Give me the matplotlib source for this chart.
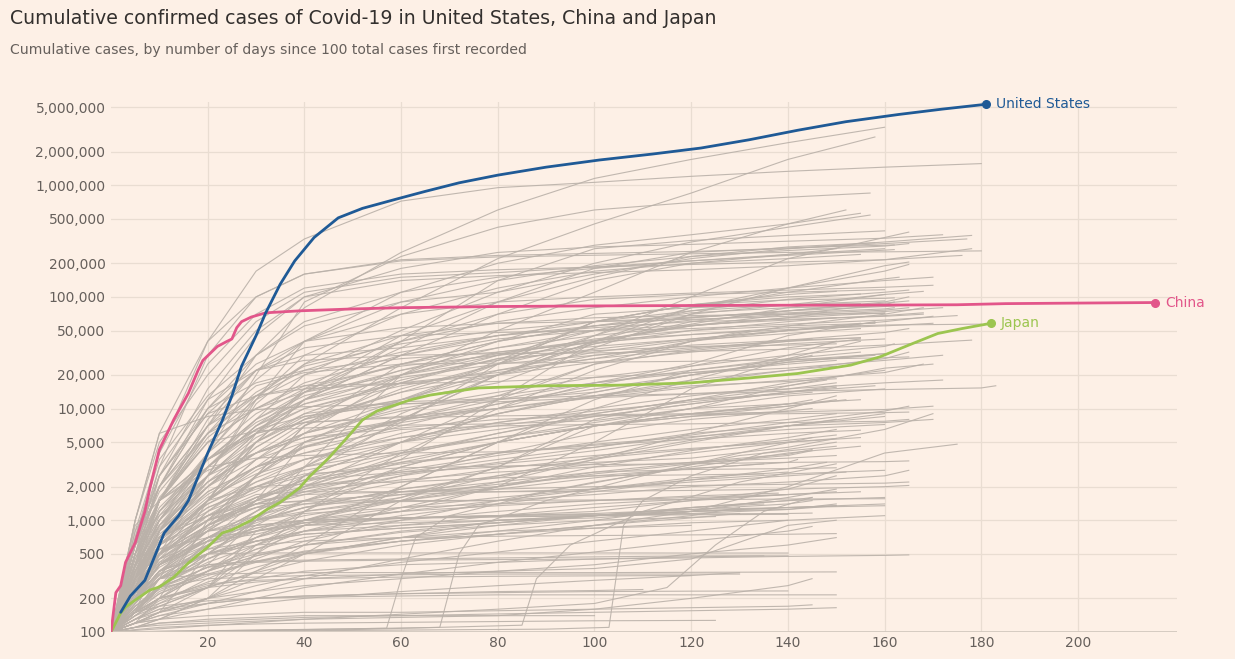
import matplotlib
matplotlib.use("Agg")
import matplotlib.pyplot as plt

plt.rcParams["font.family"] = ["DejaVu Sans"]

# highlighted countries: day since 100th case -> cumulative cases
US_DAYS = [2, 4, 7, 11, 14, 16, 20, 23, 25, 27, 30, 32, 35, 38, 42, 47, 52, 59, 65,
           72, 80, 90, 101, 112, 122, 132, 142, 152, 163, 172, 181]
US_CASES = [150, 210, 290, 770, 1100, 1500, 4000, 7800, 13000, 24000, 45000, 72000,
            130000, 210000, 340000, 510000, 620000, 750000, 880000, 1050000, 1230000,
            1450000, 1680000, 1900000, 2150000, 2550000, 3100000, 3700000, 4300000,
            4800000, 5300000]

CHINA_DAYS = [0, 1, 2, 3, 5, 7, 8, 10, 13, 16, 18, 19, 22, 24, 25, 26, 27, 29, 32, 39,
              50, 60, 80, 100, 130, 160, 175, 185, 200, 216]
CHINA_CASES = [100, 225, 260, 420, 630, 1200, 1900, 4300, 8000, 13700, 22000, 27000,
               36000, 40000, 42000, 53000, 60000, 66000, 72000, 75000, 78000, 80000,
               82000, 83000, 84000, 84500, 85000, 87000, 88000, 89000]

JAPAN_DAYS = [0, 2, 3, 5, 8, 10, 13, 16, 20, 23, 25, 29, 32, 35, 39, 41, 45, 49, 52, 55,
              58, 62, 66, 76, 90, 105, 120, 132, 142, 153, 159, 165, 171, 176, 182]
JAPAN_CASES = [100, 148, 167, 193, 237, 253, 310, 415, 575, 770, 820, 1000, 1230, 1450,
               1950, 2450, 3600, 5600, 7900, 9500, 10500, 12000, 13200, 15300, 16000,
               16200, 17000, 18800, 20600, 24500, 29000, 37000, 47000, 52000, 58000]

# other countries, values read at these days; last value is at the line's end day
GREY_GRID = [0, 5, 10, 20, 30, 40, 60, 80, 100, 120, 140, 160, 180]
GREY_LINES = [
    (180, [100, 700, 4000, 40000, 170000, 330000, 720000, 950000, 1060000, 1200000, 1330000, 1450000, 1560000]),
    (160, [100, 300, 1500, 7000, 30000, 80000, 250000, 600000, 1150000, 1700000, 2400000, 3300000]),
    (158, [100, 200, 500, 2500, 11000, 25000, 80000, 220000, 450000, 850000, 1700000, 2700000]),
    (157, [100, 250, 800, 4000, 20000, 90000, 230000, 420000, 600000, 700000, 780000, 850000]),
    (155, [100, 300, 800, 2500, 12000, 40000, 110000, 200000, 290000, 360000, 450000, 560000]),
    (157, [100, 250, 800, 3000, 8000, 20000, 50000, 110000, 200000, 310000, 420000, 540000]),
    (152, [100, 300, 800, 2000, 4500, 8000, 20000, 50000, 110000, 250000, 450000, 600000]),
    (160, [100, 400, 1200, 3500, 8000, 14000, 40000, 140000, 270000, 320000, 355000, 390000]),
    (177, [100, 500, 3000, 30000, 100000, 160000, 215000, 235000, 245000, 255000, 270000, 300000, 330000]),
    (180, [100, 1000, 6000, 40000, 100000, 160000, 210000, 228000, 236000, 243000, 250000, 253000, 258000]),
    (172, [100, 400, 2500, 15000, 50000, 100000, 180000, 250000, 280000, 295000, 315000, 335000, 360000]),
    (176, [100, 800, 4000, 25000, 70000, 120000, 160000, 175000, 185000, 195000, 205000, 215000, 235000]),
    (178, [100, 500, 2000, 12000, 45000, 100000, 140000, 155000, 165000, 175000, 190000, 215000, 270000]),
    (178, [100, 700, 3500, 13000, 30000, 55000, 90000, 110000, 160000, 220000, 270000, 310000, 355000]),
    (162, [100, 1000, 5000, 20000, 60000, 110000, 150000, 165000, 185000, 210000, 235000, 262000, 265000]),
    (162, [100, 400, 900, 2500, 6000, 14000, 35000, 90000, 180000, 250000, 275000, 290000, 292000]),
    (158, [100, 500, 1000, 2500, 6000, 15000, 45000, 90000, 150000, 230000, 280000, 305000]),
    (150, [100, 200, 600, 1500, 5000, 12000, 30000, 70000, 140000, 200000, 240000, 270000]),
    (165, [100, 250, 700, 1800, 3000, 4500, 8000, 20000, 45000, 100000, 220000, 340000, 380000]),
    (170, [100, 400, 1500, 8000, 22000, 40000, 70000, 90000, 100000, 108000, 115000, 122000, 127000]),
    (160, [100, 300, 600, 1500, 5000, 12000, 40000, 70000, 95000, 105000, 110000, 116000]),
    (172, [100, 600, 2000, 10000, 25000, 40000, 53000, 58000, 60000, 63000, 67000, 74000, 80000]),
    (175, [100, 600, 2500, 9000, 22000, 35000, 45000, 48000, 50000, 52000, 57000, 62000, 68000]),
    (173, [100, 500, 1200, 3000, 7000, 14000, 25000, 40000, 55000, 72000, 80000, 83000, 85000]),
    (178, [100, 600, 3000, 12000, 22000, 27000, 30000, 31000, 31500, 32500, 34000, 37000, 41000]),
    (170, [100, 600, 2500, 10000, 17000, 22000, 28000, 32000, 39000, 46000, 51000, 55000, 58000]),
    (162, [100, 200, 400, 800, 1500, 3000, 7500, 25000, 60000, 85000, 94000, 97000, 98000]),
    (163, [100, 300, 800, 2000, 4000, 7500, 14000, 25000, 45000, 80000, 110000, 145000, 150000]),
    (165, [100, 250, 700, 2500, 5000, 8000, 12000, 17000, 35000, 70000, 120000, 190000, 205000]),
    (165, [100, 200, 500, 1000, 1400, 2000, 3500, 12000, 40000, 80000, 120000, 170000, 195000]),
    (160, [100, 300, 1000, 3500, 8000, 13000, 22000, 31000, 40000, 57000, 80000, 105000]),
    (168, [100, 400, 1500, 7000, 13000, 16000, 16800, 20000, 40000, 70000, 85000, 105000, 112000]),
    (155, [100, 250, 600, 1500, 3500, 6000, 12000, 25000, 60000, 85000, 100000, 106000]),
    (160, [100, 400, 1500, 3500, 6000, 10000, 17000, 30000, 50000, 75000, 85000, 92000]),
    (155, [100, 250, 600, 1500, 3000, 6000, 20000, 40000, 70000, 80000, 85000, 87000]),
    (150, [100, 200, 500, 1000, 2500, 5000, 11000, 27000, 60000, 85000, 105000, 112000]),
    (165, [100, 450, 1200, 3500, 6500, 8500, 12000, 20000, 38000, 60000, 75000, 88000, 92000]),
    (165, [100, 150, 250, 900, 2500, 7000, 25000, 40000, 55000, 65000, 75000, 82000, 85000]),
    (168, [100, 150, 300, 1500, 6000, 12000, 30000, 45000, 53000, 60000, 63000, 67000, 70000]),
    (168, [100, 300, 800, 3000, 7000, 11000, 17000, 21000, 28000, 40000, 55000, 70000, 80000]),
    (160, [100, 400, 1000, 4000, 13000, 25000, 45000, 58000, 65000, 68000, 70000, 71000]),
    (180, [100, 150, 200, 400, 1000, 3000, 20000, 32000, 41000, 46000, 53000, 56000, 57000]),
    (165, [100, 800, 2000, 7000, 22000, 30000, 35000, 45000, 60000, 75000, 95000, 110000, 115000]),
    (148, [100, 150, 250, 500, 1000, 2500, 8000, 20000, 40000, 55000, 65000, 73000]),
    (170, [100, 400, 1500, 6000, 10000, 14000, 20000, 27000, 34000, 42000, 50000, 60000, 67000]),
    (155, [100, 200, 350, 800, 2500, 5000, 12000, 22000, 32000, 41000, 47000, 52000]),
    (158, [100, 300, 800, 2500, 4000, 5500, 8000, 10000, 17000, 25000, 45000, 60000]),
    (155, [100, 200, 350, 500, 1000, 2000, 5000, 12000, 25000, 40000, 50000, 58000]),
    (132, [100, 130, 150, 250, 500, 1200, 4000, 10000, 22000, 40000, 50000]),
    (155, [100, 350, 700, 1200, 1800, 3000, 9000, 20000, 30000, 37000, 41000, 43000]),
    (165, [100, 600, 2000, 7000, 16000, 21000, 25000, 25500, 26000, 26500, 27500, 28500, 29000]),
    (172, [100, 600, 2500, 9000, 13000, 15000, 16700, 17500, 19000, 21000, 23000, 27000, 30000]),
    (172, [100, 600, 1100, 2500, 5500, 9000, 11500, 12300, 13000, 13600, 15000, 17000, 18000]),
    (168, [100, 350, 1000, 3000, 6000, 7500, 8500, 10000, 12500, 15500, 18000, 21000, 25000]),
    (183, [100, 1000, 6000, 8500, 9800, 10400, 11000, 11500, 12500, 13500, 14300, 14800, 15300, 16000]),
    (165, [100, 600, 1500, 2800, 4000, 5500, 6700, 8000, 8600, 8800, 9000, 9200, 9300]),
    (170, [100, 400, 1500, 5000, 6300, 6700, 7100, 7300, 7800, 10000, 16000, 23000, 25000]),
    (170, [100, 900, 1500, 3500, 6000, 7500, 8300, 8600, 8800, 9000, 9300, 9800, 10500]),
    (165, [100, 200, 450, 1200, 2500, 4500, 6500, 7000, 7200, 7300, 7500, 7700, 8000]),
    (170, [100, 200, 400, 900, 1600, 2300, 2700, 3000, 3300, 3600, 4500, 6500, 9000]),
    (160, [100, 300, 700, 2200, 5000, 8500, 11000, 12000, 14000, 20000, 27000, 31000]),
    (150, [100, 250, 500, 1000, 2500, 7000, 17000, 28000, 33000, 36000, 37000, 38000]),
    (155, [100, 250, 500, 1500, 3000, 4000, 7000, 11000, 16000, 24000, 35000, 42000]),
    (145, [100, 150, 250, 650, 1500, 5000, 8000, 13000, 25000, 33000, 40000, 42000]),
    (145, [100, 150, 250, 350, 600, 900, 2000, 5000, 12000, 22000, 27000, 30000]),
    (150, [100, 150, 500, 900, 1500, 2500, 5000, 9000, 13000, 16000, 17500, 18500]),
    (150, [100, 150, 200, 350, 700, 1200, 3000, 5000, 7000, 9000, 10500, 12000]),
    (160, [100, 300, 700, 1500, 2000, 2100, 2200, 2400, 3500, 5000, 7000, 9000]),
    (165, [100, 300, 600, 1000, 1300, 1400, 1470, 1500, 1700, 2000, 2200, 2500, 2800]),
    (165, [100, 400, 700, 1100, 1500, 1700, 1800, 1900, 2000, 2050, 2100, 2150, 2200]),
    (165, [100, 300, 600, 1100, 1700, 1800, 1800, 1800, 1820, 1850, 1900, 2000, 2050]),
    (160, [100, 400, 700, 1100, 1400, 1480, 1500, 1510, 1520, 1530, 1550, 1560]),
    (165, [100, 120, 200, 1000, 2000, 2600, 2950, 3050, 3150, 3200, 3300, 3350, 3400]),
    (170, [100, 500, 1500, 3000, 3600, 3800, 4000, 4100, 4500, 6000, 7000, 7500, 8000]),
    (160, [100, 300, 500, 900, 1400, 1500, 1700, 1800, 1900, 2300, 2600, 2800]),
    (160, [100, 200, 400, 600, 800, 950, 1050, 1100, 1150, 1250, 1300, 1350]),
    (160, [100, 200, 400, 650, 800, 900, 950, 1000, 1050, 1200, 1300, 1400]),
    (160, [100, 200, 350, 500, 650, 750, 850, 950, 1100, 1300, 1500, 1600]),
    (150, [100, 150, 200, 250, 600, 1000, 1800, 2000, 2700, 2850, 2900, 2950]),
    (150, [100, 150, 200, 270, 290, 300, 330, 350, 370, 450, 900, 1000]),
    (165, [100, 150, 250, 380, 420, 430, 440, 445, 450, 460, 475, 485, 490]),
    (175, [100, 110, 130, 200, 500, 900, 1040, 1070, 1100, 1200, 2000, 4000, 4800]),
    (150, [100, 200, 300, 330, 335, 340, 340, 340, 340, 342, 344, 345]),
    (150, [100, 200, 300, 400, 430, 500, 700, 1000, 1100, 1200, 1250, 1400]),
    (150, [100, 250, 500, 800, 900, 1000, 1050, 1100, 1200, 1500, 1900, 2500]),
    (155, [100, 250, 450, 650, 750, 950, 1200, 2000, 5000, 15000, 28000, 40000]),
    (150, [100, 200, 300, 600, 1200, 2500, 5000, 9000, 13000, 18000, 22000, 24000]),
    (150, [100, 150, 180, 250, 350, 600, 2000, 5000, 10000, 18000, 30000, 40000]),
    (150, [100, 140, 170, 250, 800, 1200, 1500, 2200, 3500, 6000, 10000, 13000]),
    (150, [100, 200, 300, 450, 650, 750, 850, 950, 1100, 1150, 1250, 1350]),
    (145, [100, 120, 130, 200, 300, 500, 1500, 3000, 8000, 12000, 13500, 14000]),
    (140, [100, 120, 150, 500, 1000, 1200, 1600, 3000, 7000, 10000, 11000]),
    (135, [100, 200, 400, 700, 1000, 1300, 1900, 2400, 2500, 2550, 2600]),
    (150, [100, 200, 350, 550, 650, 800, 900, 1000, 1100, 1200, 1300, 1350]),
    (145, [100, 200, 550, 700, 800, 950, 1050, 1100, 1130, 1140, 1150, 1160]),
    (140, [100, 150, 300, 500, 510, 510, 510, 510, 510, 509, 509]),
    (130, [100, 120, 150, 200, 350, 500, 650, 750, 900, 1100, 1300]),
    (140, [100, 130, 160, 180, 200, 210, 220, 225, 230, 232, 233]),
    (150, [100, 150, 170, 190, 200, 205, 210, 215, 215, 215, 215, 215]),
    (145, [100, 120, 130, 140, 145, 150, 150, 155, 160, 165, 170, 175]),
    (150, [100, 110, 120, 125, 130, 135, 140, 145, 150, 155, 160, 165]),
    (130, [100, 150, 250, 300, 310, 320, 325, 330, 330, 330, 330]),
    (140, [100, 180, 300, 400, 430, 440, 450, 460, 470, 480, 480]),
    (150, [100, 200, 350, 500, 600, 650, 700, 720, 730, 740, 750, 760]),
    (120, [100, 150, 200, 250, 280, 300, 310, 315, 318, 320]),
    (145, [100, 110, 115, 120, 125, 130, 135, 140, 160, 200, 260, 300]),
    (135, [100, 140, 200, 260, 300, 350, 400, 420, 450, 470, 480]),
    (150, [100, 130, 160, 200, 230, 260, 300, 350, 400, 500, 600, 700]),
    (155, [100, 160, 250, 380, 550, 700, 900, 1100, 1300, 1500, 1700, 1800]),
    (140, [100, 200, 400, 700, 900, 1000, 1050, 1080, 1100, 1120, 1130]),
    (145, [100, 170, 240, 330, 430, 530, 650, 800, 1000, 1300, 1500, 1600]),
    (160, [100, 120, 150, 200, 260, 320, 420, 520, 650, 800, 1000, 1100]),
    (125, [100, 105, 110, 115, 118, 120, 122, 124, 126, 127]),
    (100, [100, 110, 120, 130, 135, 140, 140, 140, 140]),
    (110, [100, 120, 150, 180, 200, 210, 220, 230, 235, 240]),
    (155, [100, 200, 400, 800, 1500, 2200, 3500, 5000, 7000, 9000, 11000, 12000]),
    (150, [100, 250, 500, 900, 1300, 1700, 2500, 3300, 4200, 5500, 7000, 8000]),
    (160, [100, 300, 600, 1300, 2000, 2800, 4000, 5500, 7500, 10000, 13000, 15000]),
    (145, [100, 180, 300, 600, 1000, 1500, 2500, 4000, 6000, 8000, 9500, 10000]),
    (165, [100, 250, 450, 900, 1400, 1900, 2700, 3500, 4500, 5800, 7500, 9500, 10500]),
    (150, [100, 200, 350, 700, 1200, 2000, 3800, 6000, 9000, 12000, 15000, 17000]),
    (160, [100, 350, 800, 1800, 3000, 4000, 5500, 7000, 9000, 12000, 17000, 22000]),
    (140, [100, 150, 250, 500, 900, 1500, 3000, 5000, 7000, 8500, 9500]),
    (155, [100, 220, 380, 650, 950, 1300, 1900, 2500, 3200, 4000, 5000, 5500]),
    (165, [100, 400, 900, 2000, 3500, 5000, 7500, 10000, 13000, 17000, 22000, 28000, 32000]),
    (150, [100, 300, 700, 1600, 2600, 3500, 5000, 6500, 8500, 11000, 14000, 16000]),
    (158, [100, 250, 500, 1200, 2200, 3500, 6000, 9000, 14000, 20000, 26000, 30000]),
    (145, [100, 160, 260, 450, 700, 1000, 1500, 2000, 2600, 3200, 3800, 4200]),
    (152, [100, 350, 700, 1400, 2200, 3000, 4200, 5500, 7000, 8500, 10500, 12000]),
    (160, [100, 400, 1200, 4000, 9000, 15000, 25000, 35000, 45000, 55000, 65000, 72000]),
    (165, [100, 300, 900, 3000, 7000, 12000, 22000, 35000, 50000, 62000, 70000, 76000, 80000]),
    (155, [100, 500, 1500, 5000, 10000, 16000, 24000, 30000, 36000, 42000, 50000, 55000]),
    (162, [100, 250, 700, 2000, 5000, 9000, 18000, 28000, 40000, 55000, 70000, 85000, 90000]),
    (150, [100, 200, 500, 1500, 3500, 7000, 15000, 25000, 38000, 50000, 60000, 65000]),
    (158, [100, 350, 1000, 3000, 6500, 11000, 20000, 30000, 42000, 50000, 55000, 58000]),
    (165, [100, 450, 1500, 5500, 12000, 20000, 32000, 45000, 55000, 65000, 75000, 90000, 100000]),
    (170, [100, 600, 2000, 6000, 13000, 22000, 40000, 60000, 80000, 100000, 120000, 140000, 150000]),
    (160, [100, 500, 2000, 10000, 30000, 60000, 110000, 150000, 180000, 210000, 240000, 270000]),
    (165, [100, 400, 1500, 6000, 18000, 40000, 90000, 140000, 190000, 230000, 260000, 285000, 300000]),
    (155, [100, 350, 1000, 4000, 12000, 30000, 70000, 120000, 170000, 200000, 220000, 240000]),
    (150, [100, 300, 600, 1100, 1600, 2000, 2600, 3200, 3800, 4400, 5000, 5400]),
    (145, [100, 250, 450, 800, 1100, 1400, 1800, 2200, 2700, 3300, 3900, 4300]),
    (140, [100, 180, 300, 500, 700, 900, 1200, 1500, 1900, 2400, 2700]),
    (135, [100, 220, 400, 700, 1000, 1300, 1700, 2100, 2500, 2900, 3200]),
    (155, [100, 130, 180, 300, 450, 650, 1000, 1500, 2200, 3000, 4000, 4600]),
    (150, [100, 140, 200, 350, 550, 800, 1300, 2000, 3000, 4200, 5500, 6500]),
    (160, [100, 260, 500, 1000, 1600, 2300, 3200, 4000, 4800, 5600, 6500, 7200]),
    (152, [100, 200, 320, 550, 800, 1000, 1300, 1600, 1900, 2200, 2500, 2700]),
    (148, [100, 170, 260, 420, 600, 800, 1100, 1400, 1800, 2300, 2900, 3300]),
    (130, [100, 130, 170, 250, 340, 430, 600, 750, 900, 1050, 1150]),
    (140, [100, 300, 500, 800, 1000, 1150, 1300, 1400, 1500, 1600, 1700]),
    (145, [100, 160, 230, 350, 480, 600, 800, 950, 1100, 1250, 1400, 1500]),
    (150, [100, 120, 140, 180, 230, 300, 450, 650, 900, 1200, 1600, 1900]),
    (138, [100, 250, 420, 650, 850, 1000, 1200, 1350, 1500, 1650, 1750]),
    (125, [100, 150, 220, 350, 480, 600, 780, 900, 1000, 1080]),
    (155, [100, 350, 700, 1300, 1900, 2500, 3300, 4000, 4700, 5300, 6000, 6400]),
    (160, [100, 150, 250, 450, 700, 1000, 1600, 2500, 3700, 5200, 7000, 8500]),
    (150, [100, 280, 550, 1000, 1400, 1800, 2300, 2700, 3000, 3300, 3600, 3800]),
    (142, [100, 200, 350, 600, 850, 1100, 1500, 1900, 2400, 2900, 3300, 3500]),
    (158, [100, 300, 650, 1400, 2400, 3500, 5500, 7500, 9500, 11500, 14000, 16000]),
    (150, [100, 220, 420, 900, 1500, 2300, 4000, 6000, 8500, 11000, 14000, 15500]),
    (145, [100, 180, 330, 700, 1200, 1900, 3300, 5000, 7000, 9000, 11000, 12000]),
    (162, [100, 380, 900, 2200, 4000, 6000, 10000, 14000, 19000, 24000, 30000, 36000, 38000]),
    (155, [100, 270, 600, 1500, 2800, 4500, 8000, 12000, 17000, 22000, 28000, 32000]),
    (148, [100, 230, 480, 1100, 2000, 3000, 5000, 7500, 10000, 13000, 16000, 18000]),
    (160, [100, 320, 750, 1700, 3000, 4600, 7800, 11000, 15000, 20000, 26000, 31000]),
    (150, [100, 190, 350, 700, 1100, 1500, 2200, 2900, 3600, 4300, 5200, 5800]),
    (135, [100, 140, 190, 280, 380, 500, 700, 900, 1100, 1300, 1400]),
    (140, [100, 160, 220, 320, 420, 520, 650, 750, 850, 950, 1000]),
    (150, [100, 210, 330, 500, 650, 800, 1000, 1200, 1400, 1550, 1700, 1800]),
    (120, [100, 170, 250, 380, 500, 600, 700, 800, 850, 900]),
    (145, [100, 110, 130, 160, 200, 250, 330, 420, 520, 650, 800, 880]),
    (130, [100, 120, 140, 160, 180, 200, 230, 260, 290, 320, 340]),
    (150, [100, 240, 450, 850, 1300, 1800, 2800, 3800, 5000, 6500, 8000, 9000]),
    (165, [100, 500, 1300, 3500, 6500, 10000, 16000, 22000, 28000, 34000, 41000, 48000, 52000]),
    (160, [100, 280, 700, 2000, 4500, 8000, 14000, 20000, 26000, 32000, 38000, 42000]),
    (155, [100, 380, 1100, 3500, 7500, 12000, 19000, 25000, 30000, 35000, 40000, 43000]),
    (150, [100, 330, 850, 2200, 4000, 6000, 9500, 13000, 17000, 21000, 25000, 27000]),
    (168, [100, 500, 1600, 5000, 10000, 17000, 30000, 42000, 50000, 56000, 62000, 68000, 72000]),
    (162, [100, 600, 1800, 6000, 14000, 24000, 38000, 50000, 60000, 66000, 72000, 78000, 80000]),
]

# countries that stayed near 100 for a long time and then jumped
LATE_DAYS = [
    [0, 30, 60, 90, 103, 106, 110, 120, 135, 150],
    [0, 30, 57, 60, 63, 70, 90, 110, 130, 150],
    [0, 40, 68, 72, 76, 90, 110, 130, 145],
    [0, 50, 85, 88, 95, 110, 130, 150],
    [0, 40, 80, 100, 115, 125, 135, 145],
]
LATE_CASES = [
    [100, 102, 104, 106, 110, 900, 1500, 2500, 4000, 5000],
    [100, 104, 108, 300, 700, 1100, 1800, 2600, 3800, 4600],
    [100, 105, 110, 500, 900, 1500, 2500, 4000, 5500],
    [100, 105, 115, 300, 600, 1200, 2200, 3200],
    [100, 130, 160, 180, 250, 600, 1200, 1600],
]

Y_TICKS = [100, 200, 500, 1000, 2000, 5000, 10000, 20000, 50000, 100000, 200000,
           500000, 1000000, 2000000, 5000000]
X_TICKS = [20, 40, 60, 80, 100, 120, 140, 160, 180, 200]

BG = "#fdf0e6"
GRID = "#e9ddd2"
GREY = "#bab1a9"
US_COL = "#1f5a96"
CHINA_COL = "#e2568a"
JAPAN_COL = "#9cc550"

fig = plt.figure(figsize=(12.35, 6.59), dpi=100, facecolor=BG)
ax = fig.add_axes([0.0899, 0.041, 0.8632, 0.8035], facecolor=BG)
ax.set_yscale("log")
ax.set_xlim(0, 220.5)
ax.set_ylim(100, 5.5e6)

for end, vals in GREY_LINES:
    days = [d for d in GREY_GRID if d < end][:len(vals) - 1] + [end]
    ax.plot(days, vals, color=GREY, lw=0.8, alpha=0.9, zorder=2)
for days, vals in zip(LATE_DAYS, LATE_CASES):
    ax.plot(days, vals, color=GREY, lw=0.8, alpha=0.9, zorder=2)

ax.plot(JAPAN_DAYS, JAPAN_CASES, color=JAPAN_COL, lw=2, zorder=4, solid_capstyle="round")
ax.plot(CHINA_DAYS, CHINA_CASES, color=CHINA_COL, lw=2, zorder=5, solid_capstyle="round")
ax.plot(US_DAYS, US_CASES, color=US_COL, lw=2, zorder=6, solid_capstyle="round")

for d, c, col, name in [(US_DAYS, US_CASES, US_COL, "United States"),
                        (CHINA_DAYS, CHINA_CASES, CHINA_COL, "China"),
                        (JAPAN_DAYS, JAPAN_CASES, JAPAN_COL, "Japan")]:
    ax.plot(d[-1], c[-1], "o", color=col, ms=5.5, zorder=7, clip_on=False)
    ax.annotate(name, (d[-1], c[-1]), xytext=(7, 0), textcoords="offset points",
                color=col, fontsize=10, va="center", ha="left")

# grid and axis
for y in Y_TICKS:
    ax.axhline(y, color=GRID, lw=0.9, zorder=1)
for x in X_TICKS:
    ax.axvline(x, color=GRID, lw=0.9, zorder=1)
ax.axhline(100, color="#d2c8be", lw=2, zorder=3)

ax.set_yticks(Y_TICKS)
ax.set_yticklabels([f"{v:,}" for v in Y_TICKS])
ax.set_xticks(X_TICKS)
ax.set_xticklabels([str(x) for x in X_TICKS])
ax.minorticks_off()
ax.tick_params(length=0, labelsize=10, labelcolor="#66605c")
ax.tick_params(axis="y", pad=4)
ax.tick_params(axis="x", pad=3)
for s in ax.spines.values():
    s.set_visible(False)

fig.text(0.008, 0.972, "Cumulative confirmed cases of Covid-19 in United States, China and Japan",
         fontsize=13.6, color="#33302e", va="center", ha="left")
fig.text(0.008, 0.924, "Cumulative cases, by number of days since 100 total cases first recorded",
         fontsize=10.1, color="#66605c", va="center", ha="left")

fig.savefig("out.png", dpi=100, facecolor=BG)
